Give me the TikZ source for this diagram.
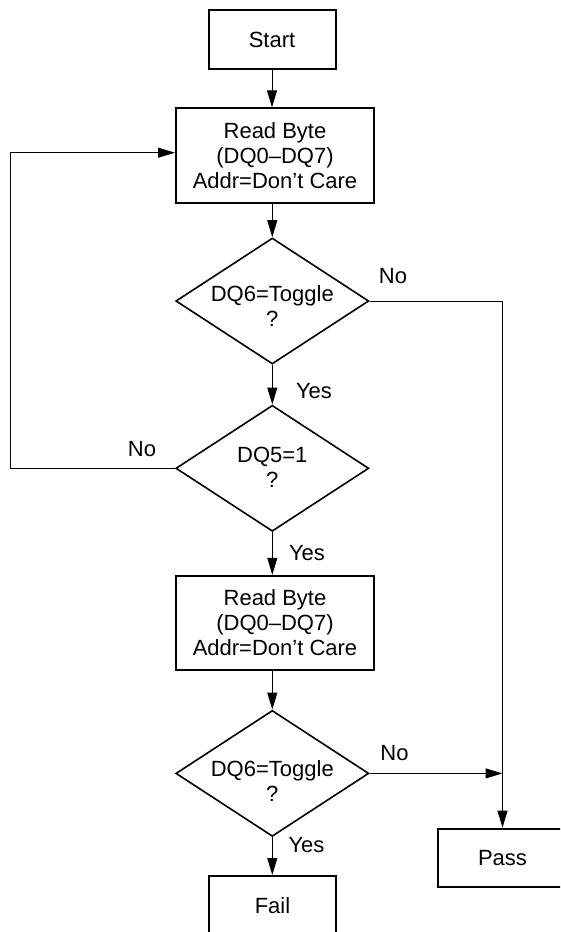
\documentclass[tikz,border=0pt]{standalone}
\usepackage{fontspec}
\setmainfont{Liberation Sans}
\usetikzlibrary{arrows.meta,shapes.geometric}
\begin{document}
\begin{tikzpicture}[x=1pt,y=-1pt,
  font=\fontsize{22}{25}\selectfont,
  box/.style={draw,line width=2pt,inner sep=0pt,align=center},
  dia/.style={draw,diamond,line width=1.6pt,inner sep=0pt,minimum width=193pt,minimum height=126pt},
  dtext/.style={align=center,inner sep=0pt},
  lbl/.style={anchor=base,inner sep=0pt},
  conn/.style={line width=1pt},
  arr/.style={conn,-{Triangle[length=17pt,width=10pt]}}]
\fill[white] (0,0) rectangle (560,932);
\useasboundingbox (0,0) rectangle (560,932);
\clip (0,0) rectangle (560,932);

\node[box,minimum width=127pt,minimum height=59pt] (start) at (272,39.5) {Start};
\node[box,minimum width=198pt,minimum height=94.4pt] (read1) at (275,155.5) {Read Byte\\(DQ0–DQ7)\\Addr=Don’t Care};
\node[dia] (d1) at (272.3,301) {};
\node[dtext] (t1) at (272.3,306.2) {DQ6=Toggle\\?};
\node[dia] (d2) at (272.3,468.3) {};
\node[dtext] (t2) at (272.3,467.8) {DQ5=1\\?};
\node[box,minimum width=198pt,minimum height=94.4pt] (read2) at (275,623) {Read Byte\\(DQ0–DQ7)\\Addr=Don’t Care};
\node[dia] (d3) at (272.3,773.4) {};
\node[dtext] (t3) at (272.3,781.2) {DQ6=Toggle\\?};
\node[box,minimum width=126.5pt,minimum height=59pt] (fail) at (272.5,905.5) {Fail};
\node[box,minimum width=130pt,minimum height=58pt] (pass) at (502.5,857.6) {};
\node (passtext) at (502.5,857.6) {Pass};

\coordinate (lt) at (10,152.7);

\draw[arr] (start.south) -- (start.south |- read1.north);
\draw[arr] (read1.south -| d1.north) -- (d1.north);
\draw[arr] (d1.south) -- (d2.north);
\draw[arr] (d2.south) -- (d2.south |- read2.north);
\draw[arr] (read2.south -| d3.north) -- (d3.north);
\draw[arr] (d3.south) -- (d3.south |- fail.north);
\draw[arr] (d1.east) -- (d1.east -| pass.north) -- (pass.north);
\draw[arr] (d3.east) -- (d3.east -| pass.north);
\draw[arr] (d2.west) -| (lt) -- (lt -| read1.west);

\node[lbl] (no1) at (393,283) {No};
\node[lbl] (yes1) at (314,398.3) {Yes};
\node[lbl] (no2) at (142,456.7) {No};
\node[lbl] (yes2) at (307,560) {Yes};
\node[lbl] (no3) at (394.5,760) {No};
\node[lbl] (yes3) at (306.5,852) {Yes};
\end{tikzpicture}
\end{document}
